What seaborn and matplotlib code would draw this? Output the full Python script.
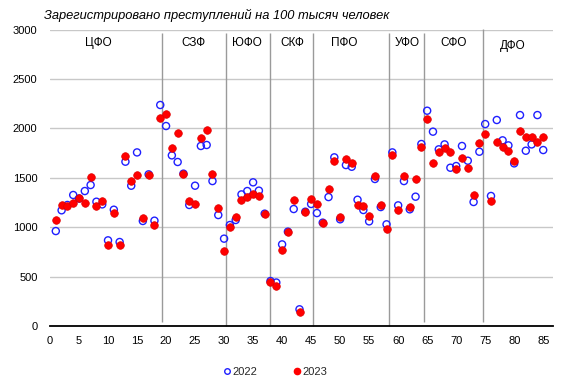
import numpy as np
import pandas as pd
import matplotlib
matplotlib.use("Agg")
import matplotlib.pyplot as plt
from matplotlib.lines import Line2D
import seaborn as sns

regions = list(range(1, 86))
v2022 = [961, 1171, 1225, 1326, 1290, 1366, 1427, 1258, 1231, 867,
         1177, 850, 1663, 1420, 1757, 1063, 1535, 1066, 2237, 2024,
         1727, 1660, 1542, 1225, 1420, 1822, 1832, 1467, 1123, 884,
         1022, 1073, 1332, 1366, 1454, 1370, 1137, 455, 440, 826,
         955, 1184, 169, 1157, 1235, 1143, 1046, 1305, 1707, 1080,
         1629, 1612, 1278, 1174, 1059, 1488, 1204, 1029, 1757, 1221,
         1467, 1181, 1309, 1842, 2179, 1967, 1788, 1838, 1602, 1619,
         1822, 1673, 1255, 1764, 2044, 1316, 2085, 1879, 1828, 1646,
         2135, 1774, 1838, 2135, 1781]
v2023 = [1076, 1225, 1218, 1248, 1299, 1248, 1511, 1218, 1265, 823,
         1147, 823, 1724, 1467, 1531, 1096, 1525, 1025, 2108, 2145,
         1805, 1956, 1542, 1265, 1238, 1906, 1987, 1535, 1197, 762,
         998, 1103, 1272, 1302, 1332, 1319, 1137, 442, 408, 769,
         955, 1275, 145, 1157, 1282, 1235, 1046, 1390, 1673, 1100,
         1687, 1646, 1225, 1214, 1117, 1518, 1221, 985, 1731, 1174,
         1518, 1201, 1491, 1815, 2095, 1653, 1764, 1798, 1764, 1592,
         1704, 1602, 1329, 1852, 1943, 1265, 1862, 1815, 1768, 1673,
         1973, 1916, 1916, 1862, 1916]

districts = ["ЦФО", "СЗФ", "ЮФО", "СКФ", "ПФО", "УФО", "СФО", "ДФО"]
district_x = [8.4, 24.8, 34.0, 41.7, 50.7, 61.6, 69.5, 79.8]
district_y = [2860, 2860, 2860, 2860, 2860, 2860, 2860, 2835]
boundaries = [19.3, 30.3, 38.0, 45.3, 58.5, 64.5, 74.7]
boundary_bottom = [45, 0, 0, 0, 0, 45, 45]
boundary_top = [2965, 2965, 2965, 2965, 2965, 2965, 3010]

title = "Зарегистрировано преступлений на 100 тысяч человек"
series_names = ["2022", "2023"]

sns.set_style("white")
plt.rcParams["font.family"] = ["Liberation Sans", "DejaVu Sans"]

df = pd.DataFrame({"region": regions, "v2022": v2022, "v2023": v2023})

fig = plt.figure(figsize=(5.73, 3.90), dpi=100)
ax = fig.add_axes([50 / 573, 1 - 326 / 390, 502.5 / 573, 296.4 / 390])

blue = "#1f1fff"
red = "#ff0000"

sns.scatterplot(data=df, x="region", y="v2022", ax=ax, marker="o", s=26,
                color=blue, linewidth=1.0, zorder=3)
pts = ax.collections[-1]
pts.set_facecolor("none")
pts.set_edgecolor(blue)
pts.set_linewidth(1.0)

sns.scatterplot(data=df, x="region", y="v2023", ax=ax, marker="o", s=30,
                color=red, edgecolor="#e00000", linewidth=0.5, zorder=4)

ax.set_xlim(0, 86.6)
ax.set_ylim(0, 3000)
ax.set_xticks(range(0, 86, 5))
ax.set_yticks(range(0, 3001, 500))
ax.yaxis.grid(True, color="#c8c8c8", linewidth=1.0)
ax.xaxis.grid(False)
ax.set_axisbelow(True)
for s in ["left", "right", "top"]:
    ax.spines[s].set_visible(False)
ax.spines["bottom"].set_color("black")
ax.spines["bottom"].set_linewidth(1.3)
ax.tick_params(axis="both", length=0, labelsize=8, colors="black")
ax.tick_params(axis="x", pad=7)
ax.tick_params(axis="y", pad=9)
ax.set_xlabel("")
ax.set_ylabel("")

ax.vlines(boundaries, boundary_bottom, boundary_top, colors="#9a9a9a",
          linewidth=1.0, zorder=2, clip_on=False)

for name, xx, yy in zip(districts, district_x, district_y):
    ax.text(xx, yy, name, ha="center", va="center", fontsize=8.5, color="black")

fig.text(44 / 573, 1 - 15.7 / 390, title, ha="left", va="center",
         fontsize=9.3, style="italic", color="black")

handles = [
    Line2D([], [], marker="o", linestyle="none", markersize=4,
           markerfacecolor="none", markeredgecolor=blue, markeredgewidth=1.0,
           label=series_names[0]),
    Line2D([], [], marker="o", linestyle="none", markersize=4.5,
           markerfacecolor=red, markeredgecolor=red, label=series_names[1]),
]
fig.legend(handles=handles, loc="center", bbox_to_anchor=(275 / 573, 1 - 372 / 390),
           ncol=2, frameon=False, fontsize=8, handletextpad=0.05,
           columnspacing=3.2, handlelength=0.8)

fig.savefig("out.png", dpi=100)
